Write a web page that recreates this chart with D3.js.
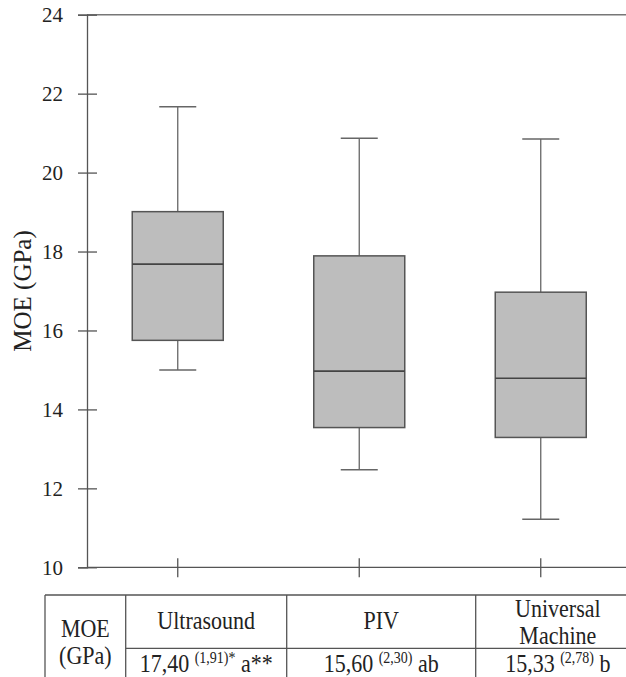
<!DOCTYPE html>
<html>
<head>
<meta charset="utf-8">
<script src="https://cdn.jsdelivr.net/npm/d3@7"></script>
<style>
  body { margin: 0; background: #fff; }
  text { font-family: "Liberation Serif", "DejaVu Serif", serif; fill: #222; }
</style>
</head>
<body>
<svg id="chart"></svg>
<script>
// box plot values (GPa)
const methods = ["Ultrasound", "PIV", "Universal Machine"];
const mins    = [15.0, 12.47, 11.22];
const q1s     = [15.75, 13.54, 13.29];
const medians = [17.68, 14.97, 14.79];
const q3s     = [19.01, 17.89, 16.97];
const maxs    = [21.67, 20.87, 20.85];
const yTicks  = [10, 12, 14, 16, 18, 20, 22, 24];

// table below the plot
const headerLines = [["Ultrasound"], ["PIV"], ["Universal", "Machine"]];
const means   = ["17,40", "15,60", "15,33"];
const sds     = ["(1,91)*", "(2,30)", "(2,78)"];
const letters = ["a**", "ab", "b"];

const width = 626, height = 677;
const plotL = 87, plotR = 631.5, plotT = 14.7, plotB = 567.3;
const lineColor = "#555";

const svg = d3.select("#chart")
    .attr("width", width)
    .attr("height", height);

const x = d3.scalePoint()
    .domain(methods)
    .range([plotL, plotR])
    .padding(0.5);

const y = d3.scaleLinear()
    .domain([10, 24])
    .range([plotB, plotT]);

const data = methods.map((m, i) => ({
    name: m, min: mins[i], q1: q1s[i], med: medians[i], q3: q3s[i], max: maxs[i]
}));

// frame lines
svg.append("line")
    .attr("x1", plotL).attr("x2", width)
    .attr("y1", plotT).attr("y2", plotT)
    .attr("stroke", "#777").attr("stroke-width", 1.5);
svg.append("line")
    .attr("x1", plotL).attr("x2", width)
    .attr("y1", plotB).attr("y2", plotB)
    .attr("stroke", lineColor).attr("stroke-width", 1.3);

// y axis
const yAxis = svg.append("g")
    .attr("transform", `translate(${plotL},0)`)
    .call(d3.axisLeft(y).tickValues(yTicks).tickSizeOuter(0).tickSize(9).tickPadding(15));
yAxis.select(".domain").attr("stroke", lineColor).attr("stroke-width", 1.3);
yAxis.selectAll(".tick line")
    .attr("x1", -9).attr("x2", 10)
    .attr("stroke", lineColor).attr("stroke-width", 1.3);
yAxis.selectAll(".tick text")
    .style("font-family", "'Liberation Serif', serif")
    .style("font-size", "21px")
    .attr("fill", "#222");

// x ticks crossing the bottom line
svg.selectAll(".xtick")
    .data(methods)
    .enter().append("line")
    .attr("class", "xtick")
    .attr("x1", d => x(d)).attr("x2", d => x(d))
    .attr("y1", plotB - 9).attr("y2", plotB + 10)
    .attr("stroke", lineColor).attr("stroke-width", 1.3);

// y axis title
svg.append("text")
    .attr("transform", `translate(31,${(plotT + plotB) / 2}) rotate(-90)`)
    .attr("text-anchor", "middle")
    .style("font-size", "25px")
    .text("MOE (GPa)");

// boxes
const boxW = 91, capW = 37;
const boxes = svg.selectAll(".box")
    .data(data)
    .enter().append("g")
    .attr("class", "box");

boxes.append("line")
    .attr("x1", d => x(d.name)).attr("x2", d => x(d.name))
    .attr("y1", d => y(d.max)).attr("y2", d => y(d.q3))
    .attr("stroke", "#666").attr("stroke-width", 1.3);
boxes.append("line")
    .attr("x1", d => x(d.name)).attr("x2", d => x(d.name))
    .attr("y1", d => y(d.q1)).attr("y2", d => y(d.min))
    .attr("stroke", "#666").attr("stroke-width", 1.3);
boxes.append("line")
    .attr("x1", d => x(d.name) - capW / 2).attr("x2", d => x(d.name) + capW / 2)
    .attr("y1", d => y(d.max)).attr("y2", d => y(d.max))
    .attr("stroke", "#666").attr("stroke-width", 1.5);
boxes.append("line")
    .attr("x1", d => x(d.name) - capW / 2).attr("x2", d => x(d.name) + capW / 2)
    .attr("y1", d => y(d.min)).attr("y2", d => y(d.min))
    .attr("stroke", "#666").attr("stroke-width", 1.5);
boxes.append("rect")
    .attr("x", d => x(d.name) - boxW / 2)
    .attr("width", boxW)
    .attr("y", d => y(d.q3))
    .attr("height", d => y(d.q1) - y(d.q3))
    .attr("fill", "#bdbdbd")
    .attr("stroke", lineColor).attr("stroke-width", 1.5);
boxes.append("line")
    .attr("x1", d => x(d.name) - boxW / 2).attr("x2", d => x(d.name) + boxW / 2)
    .attr("y1", d => y(d.med)).attr("y2", d => y(d.med))
    .attr("stroke", "#444").attr("stroke-width", 1.6);

// table
const tTop = 595, tMid = 648.3, tBot = 700;
const colX = [45, 125.7, 286.7, 475.7, 640];
const tbl = svg.append("g")
    .attr("stroke", lineColor).attr("stroke-width", 1.3);
tbl.append("line").attr("x1", colX[0]).attr("x2", width).attr("y1", tTop).attr("y2", tTop);
tbl.append("line").attr("x1", colX[1]).attr("x2", width).attr("y1", tMid).attr("y2", tMid);
colX.slice(0, 4).forEach(cx => {
    tbl.append("line").attr("x1", cx).attr("x2", cx).attr("y1", tTop).attr("y2", tBot);
});

// table text is a little taller than wide in the original
const stretch = 1.17;
function cell(cx, cy) {
    return svg.append("text")
        .attr("transform", `translate(${cx},${cy}) scale(1,${stretch})`)
        .attr("text-anchor", "middle")
        .style("font-size", "22px");
}

cell((colX[0] + colX[1]) / 2, 637).text("MOE");
cell((colX[0] + colX[1]) / 2, 664).text("(GPa)");

const colCenter = i => (colX[i + 1] + colX[i + 2]) / 2;

headerLines.forEach((lines, i) => {
    const y0 = lines.length === 1 ? 629 : 617;
    lines.forEach((ln, j) => {
        cell(colCenter(i), y0 + j * 27).text(ln);
    });
});

means.forEach((m, i) => {
    const t = cell(colCenter(i), 672);
    t.append("tspan").text(m + " ");
    t.append("tspan").attr("dy", -8).style("font-size", "14px").text(sds[i]);
    t.append("tspan").attr("dy", 8).text(" " + letters[i]);
});
</script>
</body>
</html>
